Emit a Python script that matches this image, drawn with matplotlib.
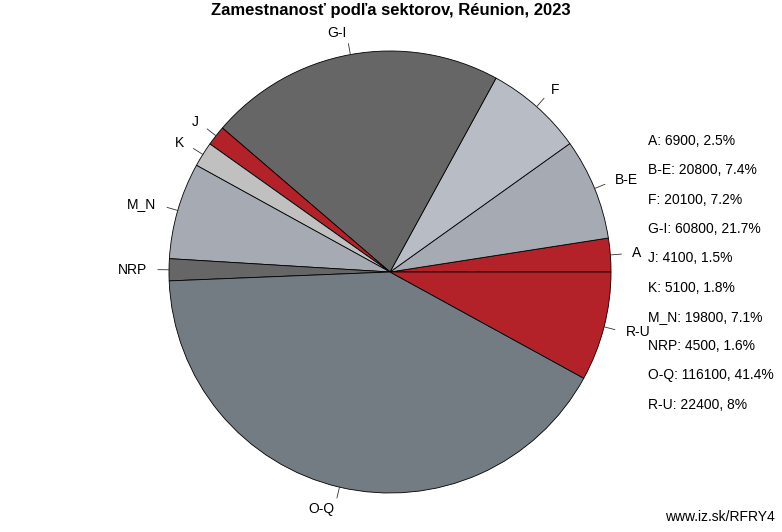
import numpy as np
import matplotlib.pyplot as plt

plt.rcParams['font.family'] = ['Liberation Sans', 'DejaVu Sans']

# Data
sectors = ['A', 'B-E', 'F', 'G-I', 'J', 'K', 'M_N', 'NRP', 'O-Q', 'R-U']
workers = [6900, 20800, 20100, 60800, 4100, 5100, 19800, 4500, 116100, 22400]
shares = ['2.5%', '7.4%', '7.2%', '21.7%', '1.5%', '1.8%', '7.1%', '1.6%', '41.4%', '8%']
colors = ['#b22228', '#a6abb3', '#b8bcc4', '#666666', '#b22228',
          '#c0c0c0', '#a6abb3', '#666666', '#737b83', '#b22228']

W, H = 782, 532
fig = plt.figure(figsize=(W / 100, H / 100), dpi=100)
ax = fig.add_axes([0, 0, 1, 1])

cx, cy, r = 390, H - 272, 221
wedges, _ = ax.pie(workers, colors=colors, startangle=0, counterclock=True,
                   center=(cx, cy), radius=r,
                   wedgeprops=dict(edgecolor='black', linewidth=0.6))

# labels with leader ticks
total = sum(workers)
start = 0.0
for name, v in zip(sectors, workers):
    mid = np.deg2rad((start + v / 2) / total * 360)
    start += v
    c, s = np.cos(mid), np.sin(mid)
    ax.plot([cx + r * c, cx + 1.05 * r * c], [cy + r * s, cy + 1.05 * r * s],
            color='#333333', lw=0.6)
    ha = 'left' if c >= 0 else 'right'
    ax.text(cx + 1.1 * r * c, cy + 1.1 * r * s, name, ha=ha, va='center',
            fontsize=10, color='black')

# side legend
for i, (name, v, p) in enumerate(zip(sectors, workers, shares)):
    ax.text(648, H - (141 + i * 29.3), f'{name}: {v}, {p}', ha='left',
            va='center', fontsize=10)

ax.text(391, H - 11, 'Zamestnanosť podľa sektorov, Réunion, 2023', ha='center',
        va='center', fontsize=12, fontweight='bold')
ax.text(775, H - 517, 'www.iz.sk/RFRY4', ha='right', va='center', fontsize=10)

ax.set_xlim(0, W)
ax.set_ylim(0, H)
ax.set_aspect('equal')
ax.axis('off')

fig.savefig('out.png', dpi=100)
